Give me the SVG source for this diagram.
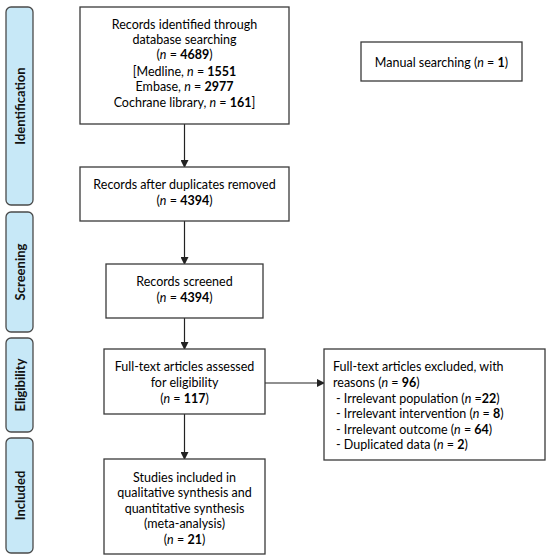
<svg xmlns="http://www.w3.org/2000/svg" width="550" height="558" viewBox="0 0 550 558">
<style>
.box{fill:#fff;stroke:#3a3a3a;stroke-width:1.3}
.side{fill:#c7e8f7;stroke:#4a4a4a;stroke-width:1.3}
text{font-family:Lato,"Liberation Sans",sans-serif;font-size:12.5px;fill:#000}
.c{text-anchor:middle}
.s{font-weight:bold;text-anchor:middle;font-size:13px;fill:#111}
.b{font-weight:bold}
.i{font-style:italic}
.ln{stroke:#222;stroke-width:1.2;fill:none}
</style>
<defs>
<marker id="ah" markerWidth="8" markerHeight="8" refX="7" refY="4" orient="auto" markerUnits="userSpaceOnUse">
<path d="M0,0 L8,4 L0,8 Z" fill="#222"/>
</marker>
</defs>
<g id="side-identification"><rect class="side" x="6" y="7" width="27" height="198" rx="5"/><text class="s" transform="translate(24.5,106) rotate(-90)">Identification</text></g>
<g id="side-screening"><rect class="side" x="6" y="212" width="27" height="120" rx="5"/><text class="s" transform="translate(24.5,272) rotate(-90)">Screening</text></g>
<g id="side-eligibility"><rect class="side" x="6" y="338" width="27" height="94" rx="5"/><text class="s" transform="translate(24.5,385) rotate(-90)">Eligibility</text></g>
<g id="side-included"><rect class="side" x="6" y="438" width="27" height="115" rx="5"/><text class="s" transform="translate(24.5,495.5) rotate(-90)">Included</text></g>
<g id="connectors">
<line class="ln" x1="184.5" y1="124" x2="184.5" y2="167" marker-end="url(#ah)"/>
<line class="ln" x1="184.5" y1="221" x2="184.5" y2="264" marker-end="url(#ah)"/>
<line class="ln" x1="184.5" y1="318" x2="184.5" y2="349" marker-end="url(#ah)"/>
<line class="ln" x1="184.5" y1="414" x2="184.5" y2="459" marker-end="url(#ah)"/>
<line class="ln" x1="265" y1="383" x2="324" y2="383" marker-end="url(#ah)"/>
</g>
<g id="records-identified"><rect class="box" x="80" y="7" width="209" height="117"/>
<text class="c" x="184.5" y="29">Records identified through</text>
<text class="c" x="184.5" y="44">database searching</text>
<text class="c" x="184.5" y="59">(<tspan class="i">n</tspan> = <tspan class="b">4689</tspan>)</text>
<text class="c" x="184.5" y="75.5">[Medline, <tspan class="i">n</tspan> = <tspan class="b">1551</tspan></text>
<text class="c" x="184.5" y="91">Embase, <tspan class="i">n</tspan> = <tspan class="b">2977</tspan></text>
<text class="c" x="184.5" y="106.5">Cochrane library, <tspan class="i">n</tspan> = <tspan class="b">161</tspan>]</text>
</g>
<g id="manual-searching"><rect class="box" x="361" y="42" width="161" height="39"/>
<text class="c" x="441.5" y="66.5">Manual searching (<tspan class="i">n</tspan> = <tspan class="b">1</tspan>)</text>
</g>
<g id="duplicates-removed"><rect class="box" x="80" y="167" width="209" height="54"/>
<text class="c" x="184.5" y="189">Records after duplicates removed</text>
<text class="c" x="184.5" y="204.5">(<tspan class="i">n</tspan> = <tspan class="b">4394</tspan>)</text>
</g>
<g id="records-screened"><rect class="box" x="106" y="264" width="157" height="54"/>
<text class="c" x="184.5" y="285.5">Records screened</text>
<text class="c" x="184.5" y="301.5">(<tspan class="i">n</tspan> = <tspan class="b">4394</tspan>)</text>
</g>
<g id="full-text-assessed"><rect class="box" x="104" y="349" width="161" height="65"/>
<text class="c" x="184.5" y="371">Full-text articles assessed</text>
<text class="c" x="184.5" y="387">for eligibility</text>
<text class="c" x="184.5" y="402.5">(<tspan class="i">n</tspan> = <tspan class="b">117</tspan>)</text>
</g>
<g id="full-text-excluded"><rect class="box" x="324" y="349" width="221" height="111"/>
<text x="333" y="371">Full-text articles excluded, with</text>
<text x="333" y="387">reasons (<tspan class="i">n</tspan> = <tspan class="b">96</tspan>)</text>
<text x="336" y="402.5">- Irrelevant population (<tspan class="i">n</tspan> =<tspan class="b">22</tspan>)</text>
<text x="336" y="418">- Irrelevant intervention (<tspan class="i">n</tspan> = <tspan class="b">8</tspan>)</text>
<text x="336" y="433.5">- Irrelevant outcome (<tspan class="i">n</tspan> = <tspan class="b">64</tspan>)</text>
<text x="336" y="449">- Duplicated data (<tspan class="i">n</tspan> = <tspan class="b">2</tspan>)</text>
</g>
<g id="studies-included"><rect class="box" x="104" y="459" width="161" height="95"/>
<text class="c" x="184.5" y="481.5">Studies included in</text>
<text class="c" x="184.5" y="497">qualitative synthesis and</text>
<text class="c" x="184.5" y="512.5">quantitative synthesis</text>
<text class="c" x="184.5" y="528">(meta-analysis)</text>
<text class="c" x="184.5" y="544">(<tspan class="i">n</tspan> = <tspan class="b">21</tspan>)</text>
</g>
</svg>
